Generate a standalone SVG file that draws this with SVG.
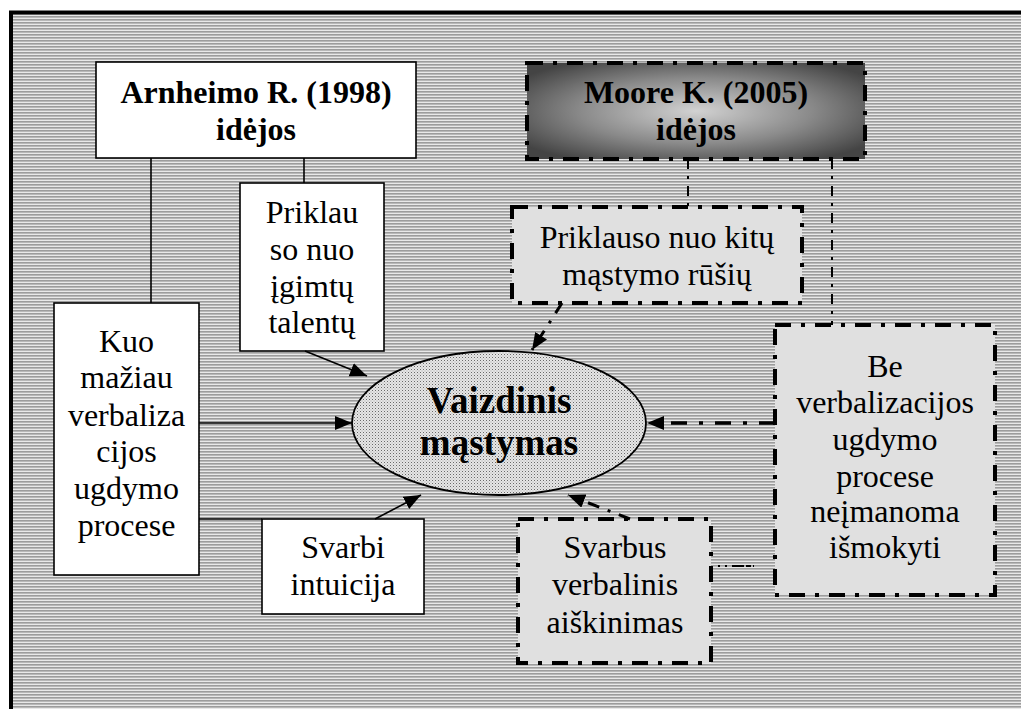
<svg xmlns="http://www.w3.org/2000/svg" width="1021" height="709" viewBox="0 0 1021 709">
<style>
text{font-family:'Liberation Serif','DejaVu Serif',serif;font-size:32px;fill:#000;text-anchor:middle}
.b{font-weight:bold}
.big{font-size:37px}
.solidbox{fill:#fff;stroke:#000;stroke-width:1.6}
.ddbox{fill:#e0e0e0;stroke:#000;stroke-width:4;stroke-dasharray:16 10 4 10}
.ln{stroke:#000;stroke-width:1.6;fill:none}
.dthin{stroke:#000;stroke-width:2;fill:none;stroke-dasharray:10 7 3 7}
.dthick{stroke:#000;stroke-width:3.5;fill:none;stroke-dasharray:16 12 4 12}
.dmid{stroke:#000;stroke-width:3;fill:none;stroke-dasharray:12 9 3 9}
</style>
<defs>
<pattern id="stripes" width="4" height="3" patternUnits="userSpaceOnUse">
<rect width="4" height="3" fill="#9c9c9c"/>
<rect y="0" width="4" height="1" fill="#e8e8e8"/>
<rect y="2" width="4" height="1" fill="#b8b8b8"/>
</pattern>
<pattern id="dots" width="3" height="3" patternUnits="userSpaceOnUse">
<rect width="3" height="3" fill="#e6e6e6"/>
<rect width="1" height="1" fill="#6a6a6a"/>
<rect x="1.5" y="1.5" width="1" height="1" fill="#a8a8a8"/>
</pattern>
<radialGradient id="mooreGrad" cx="0.5" cy="0.5" r="0.62">
<stop offset="0" stop-color="#d2d2d2"/>
<stop offset="0.55" stop-color="#8a8a8a"/>
<stop offset="1" stop-color="#444"/>
</radialGradient>
<marker id="arr" markerWidth="18" markerHeight="15" refX="17" refY="7" orient="auto" markerUnits="userSpaceOnUse">
<path d="M0,0 L17,7 L0,14 z" fill="#000"/>
</marker>
</defs>

<rect width="1021" height="709" fill="#fff"/>
<rect x="11" y="12.5" width="1100" height="800" fill="url(#stripes)" stroke="#000" stroke-width="4"/>

<g id="arnheimo">
<rect class="solidbox" x="96" y="62" width="320" height="96"/>
<text class="b" x="256" y="103" font-family="Liberation Serif">Arnheimo R. (1998)</text>
<text class="b" x="256" y="140" font-family="Liberation Serif">idėjos</text>
</g>

<g id="moore">
<rect x="527" y="63" width="338" height="96" fill="url(#mooreGrad)" stroke="#000" stroke-width="4" stroke-dasharray="16 10 4 10"/>
<text class="b" x="696" y="103">Moore K. (2005)</text>
<text class="b" x="696" y="140">idėjos</text>
</g>

<g id="priklau">
<rect class="solidbox" x="240" y="183" width="144" height="168"/>
<text x="312" y="223">Priklau</text>
<text x="312" y="260">so nuo</text>
<text x="312" y="297">įgimtų</text>
<text x="312" y="333">talentų</text>
</g>

<g id="kuo">
<rect class="solidbox" x="54" y="303" width="145" height="272"/>
<text x="126.5" y="352">Kuo</text>
<text x="126.5" y="388">mažiau</text>
<text x="126.5" y="426">verbaliza</text>
<text x="126.5" y="462">cijos</text>
<text x="126.5" y="499">ugdymo</text>
<text x="126.5" y="536">procese</text>
</g>

<g id="svarbi">
<rect class="solidbox" x="262" y="519" width="162" height="95"/>
<text x="343" y="558">Svarbi</text>
<text x="343" y="595">intuicija</text>
</g>

<g id="priklauso">
<rect class="ddbox" x="512" y="207" width="290" height="96"/>
<text x="657" y="248">Priklauso nuo kitų</text>
<text x="657" y="285">mąstymo rūšių</text>
</g>

<g id="be">
<rect class="ddbox" x="775" y="325" width="220" height="270"/>
<text x="885" y="377">Be</text>
<text x="885" y="413">verbalizacijos</text>
<text x="885" y="450">ugdymo</text>
<text x="885" y="487">procese</text>
<text x="885" y="522">neįmanoma</text>
<text x="885" y="558">išmokyti</text>
</g>

<g id="svarbus">
<rect class="ddbox" x="518" y="519" width="193" height="144"/>
<text x="615" y="558">Svarbus</text>
<text x="615" y="595">verbalinis</text>
<text x="615" y="633">aiškinimas</text>
</g>

<g id="center">
<ellipse cx="499" cy="423" rx="147" ry="72" fill="url(#dots)" stroke="#000" stroke-width="1.8"/>
<text class="b big" x="499" y="413">Vaizdinis</text>
<text class="b big" x="499" y="455">mąstymas</text>
</g>

<g id="connectors">
<line class="ln" x1="151" y1="158" x2="151" y2="303"/>
<line class="ln" x1="304" y1="158" x2="304" y2="183"/>
<line class="ln" x1="305" y1="351" x2="367" y2="376" marker-end="url(#arr)"/>
<line class="ln" x1="199" y1="423" x2="352" y2="423" marker-end="url(#arr)"/>
<line class="ln" x1="199" y1="519" x2="262" y2="519"/>
<line class="ln" x1="375" y1="519" x2="421" y2="495" marker-end="url(#arr)"/>
<line class="dthin" x1="688" y1="159" x2="688" y2="207"/>
<line class="dthin" x1="832" y1="159" x2="832" y2="325"/>
<line class="dmid" x1="562" y1="303" x2="532" y2="350" marker-end="url(#arr)"/>
<line class="dthick" x1="775" y1="423" x2="647" y2="423" marker-end="url(#arr)"/>
<line class="dmid" x1="630" y1="519" x2="568" y2="495" marker-end="url(#arr)"/>
<line stroke="#000" stroke-width="2" stroke-dasharray="2 5 2 5 12" x1="718" y1="566" x2="754" y2="566"/>
</g>
</svg>
